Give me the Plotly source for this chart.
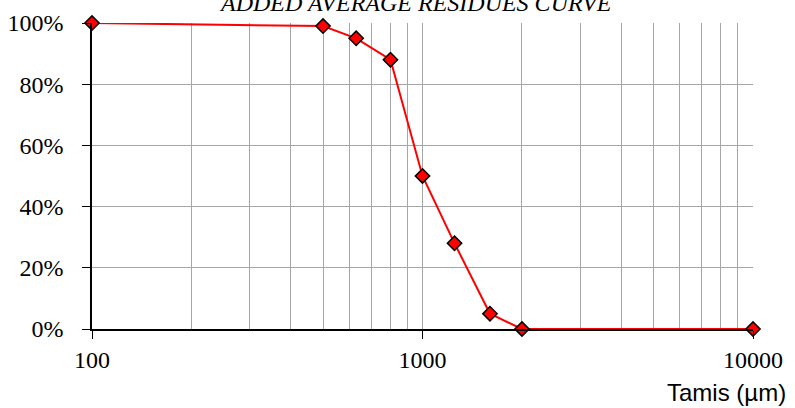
import plotly.graph_objects as go

sieve_um = [100, 500, 630, 800, 1000, 1250, 1600, 2000, 10000]
residue = [1.00, 0.99, 0.95, 0.88, 0.50, 0.28, 0.05, 0.00, 0.00]
x_major = [100, 1000, 10000]
x_minor = [200, 300, 400, 500, 600, 700, 800, 900, 2000, 3000, 4000, 5000, 6000, 7000, 8000, 9000]
y_ticks = [0, 0.2, 0.4, 0.6, 0.8, 1.0]
title_text = "ADDED AVERAGE RESIDUES CURVE"
x_title = "Tamis (µm)"

serif = "Liberation Serif"
grid = "#a6a6a6"

fig = go.Figure()
fig.add_trace(go.Scatter(
    x=sieve_um, y=residue, mode="lines+markers",
    line=dict(color="#ff0000", width=2),
    marker=dict(symbol="diamond", size=11, color="#ff0000",
                line=dict(color="#000000", width=1.5)),
    showlegend=False, cliponaxis=False,
))

fig.update_layout(
    width=795, height=408,
    margin=dict(l=92, r=42, t=23, b=79, autoexpand=False),
    paper_bgcolor="white", plot_bgcolor="white",
    font=dict(family=serif, size=24, color="black"),
    xaxis=dict(
        type="log", range=[2, 4], automargin=False,
        tickmode="array", tickvals=x_major, ticktext=[str(v) for v in x_major],
        tickfont=dict(family=serif, size=24, color="black"),
        showgrid=True, gridcolor=grid, gridwidth=1,
        minor=dict(tickmode="array", tickvals=x_minor, showgrid=True,
                   gridcolor=grid, gridwidth=1, ticklen=0),
        showline=True, linecolor="black", linewidth=1.5,
        ticks="outside", ticklen=8, tickcolor="black", tickwidth=1,
        zeroline=False, ticklabelstandoff=0,
    ),
    yaxis=dict(
        range=[0, 1], automargin=False,
        tickmode="array", tickvals=y_ticks,
        ticktext=[f"{int(round(v * 100))}%" for v in y_ticks],
        tickfont=dict(family=serif, size=24, color="black"),
        showgrid=True, gridcolor=grid, gridwidth=1,
        showline=True, linecolor="black", linewidth=1.5,
        ticks="outside", ticklen=8, tickcolor="black", tickwidth=1,
        zeroline=False, ticklabelstandoff=14,
    ),
    annotations=[
        dict(text="<i>" + title_text + "</i>", xref="paper", yref="paper", x=0.49, y=1.017,
             xanchor="center", yanchor="bottom", showarrow=False,
             font=dict(family=serif, size=24, color="black")),
        dict(text=x_title, xref="paper", yref="paper", x=1.053, y=-0.209,
             xanchor="right", yanchor="middle", showarrow=False,
             font=dict(family="Liberation Sans", size=24, color="black")),
    ],
)

fig.write_html("out.html", config={"displayModeBar": False},
               post_script="document.body.style.margin='0';document.body.style.overflow='hidden';")
